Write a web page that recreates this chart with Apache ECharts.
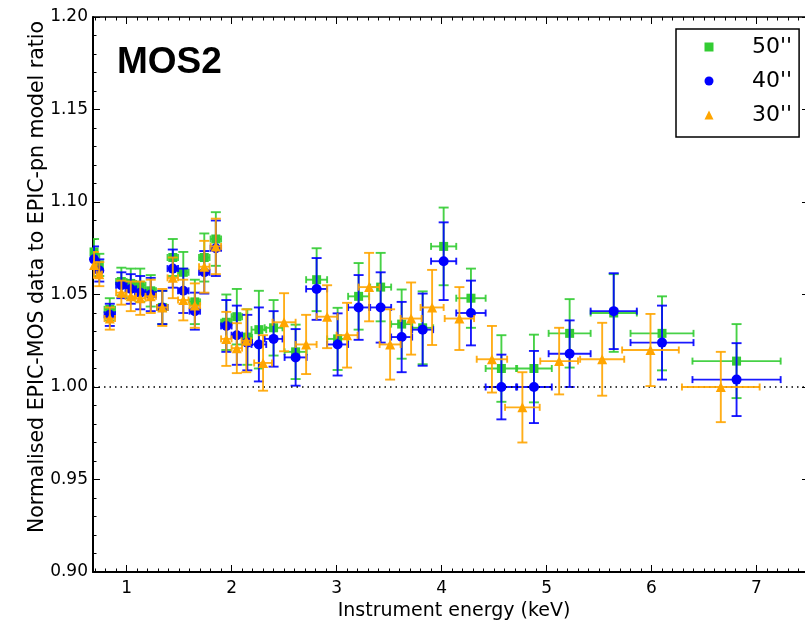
<!DOCTYPE html>
<html><head><meta charset="utf-8">
<script src="https://cdn.jsdelivr.net/npm/echarts@6/dist/echarts.min.js"></script>
<style>html,body{margin:0;padding:0;background:#fff}#c{width:805px;height:624px}</style>
</head><body><div id="c"></div>
<script>
// ---- data ----
const seriesNames = ["50''", "40''", "30''"];

const energyGB = [0.69, 0.74, 0.84, 0.95, 1.04, 1.13, 1.23, 1.34, 1.44, 1.54, 1.65, 1.74, 1.85, 1.95, 2.05, 2.15, 2.26, 2.40, 2.61, 2.81, 3.01, 3.21, 3.42, 3.62, 3.82, 4.02, 4.28, 4.57, 4.88, 5.22, 5.64, 6.10, 6.81];
const energyErrGB = [0.025, 0.025, 0.05, 0.05, 0.05, 0.05, 0.05, 0.05, 0.05, 0.05, 0.05, 0.05, 0.05, 0.05, 0.05, 0.045, 0.07, 0.085, 0.105, 0.1, 0.1, 0.1, 0.1, 0.1, 0.1, 0.12, 0.14, 0.15, 0.17, 0.2, 0.22, 0.3, 0.42];

const ratio50 = [1.073, 1.066, 1.042, 1.057, 1.056, 1.055, 1.052, 1.043, 1.070, 1.062, 1.046, 1.070, 1.080, 1.035, 1.038, 1.027, 1.031, 1.032, 1.019, 1.058, 1.026, 1.049, 1.054, 1.034, 1.032, 1.076, 1.048, 1.010, 1.010, 1.029, 1.040, 1.029, 1.014];
const ratioErr50 = [0.007, 0.006, 0.006, 0.0075, 0.008, 0.009, 0.0085, 0.009, 0.010, 0.011, 0.012, 0.013, 0.0145, 0.015, 0.015, 0.015, 0.021, 0.015, 0.0147, 0.017, 0.0168, 0.018, 0.0185, 0.0187, 0.0197, 0.021, 0.016, 0.018, 0.0183, 0.0185, 0.021, 0.020, 0.020];

const ratio40 = [1.069, 1.063, 1.039, 1.055, 1.053, 1.051, 1.050, 1.043, 1.064, 1.052, 1.041, 1.062, 1.075, 1.033, 1.028, 1.024, 1.023, 1.026, 1.016, 1.053, 1.023, 1.043, 1.043, 1.027, 1.031, 1.068, 1.040, 1.000, 1.000, 1.018, 1.041, 1.024, 1.004];
const ratioErr40 = [0.007, 0.006, 0.006, 0.007, 0.008, 0.009, 0.009, 0.009, 0.0103, 0.012, 0.010, 0.0115, 0.015, 0.014, 0.016, 0.015, 0.020, 0.015, 0.0153, 0.0167, 0.0168, 0.0175, 0.019, 0.019, 0.0195, 0.021, 0.0175, 0.0175, 0.0195, 0.018, 0.0205, 0.020, 0.0197];

const energy30 = [0.69, 0.74, 0.84, 0.95, 1.04, 1.13, 1.23, 1.34, 1.44, 1.54, 1.65, 1.74, 1.85, 1.95, 2.05, 2.14, 2.30, 2.50, 2.71, 2.91, 3.10, 3.31, 3.51, 3.71, 3.91, 4.17, 4.48, 4.77, 5.12, 5.53, 5.99, 6.66];
const energyErr30 = [0.025, 0.025, 0.05, 0.05, 0.05, 0.05, 0.05, 0.05, 0.05, 0.05, 0.05, 0.05, 0.05, 0.05, 0.05, 0.045, 0.085, 0.11, 0.1, 0.1, 0.1, 0.1, 0.1, 0.1, 0.11, 0.14, 0.145, 0.165, 0.18, 0.21, 0.27, 0.37];
const ratio30 = [1.066, 1.061, 1.037, 1.051, 1.049, 1.048, 1.049, 1.043, 1.059, 1.047, 1.044, 1.065, 1.076, 1.026, 1.021, 1.025, 1.013, 1.035, 1.023, 1.038, 1.028, 1.054, 1.023, 1.037, 1.043, 1.037, 1.015, 0.989, 1.014, 1.015, 1.020, 1.000];
const ratioErr30 = [0.007, 0.0065, 0.006, 0.0065, 0.008, 0.009, 0.009, 0.010, 0.011, 0.011, 0.012, 0.014, 0.015, 0.0146, 0.0135, 0.017, 0.015, 0.0157, 0.016, 0.017, 0.0175, 0.0185, 0.019, 0.0195, 0.0203, 0.017, 0.018, 0.019, 0.018, 0.0197, 0.0195, 0.019];

const xTickValues = [1, 2, 3, 4, 5, 6, 7];
const xTickLabels = ['1', '2', '3', '4', '5', '6', '7'];
const yTickLabels = ['0.90', '0.95', '1.00', '1.05', '1.10', '1.15', '1.20'];

// ---- chart ----
const XMIN = 0.68, XMAX = 7.5, YMIN = 0.9, YMAX = 1.2;
const xMinorValues = [];
for (let k = 7; k <= 74; k++) { if (k % 10 !== 0) xMinorValues.push(k / 10); }

const colors = ['#33cc33', '#0000ff', '#ffa500'];
const FONT = 'DejaVu Sans';

function errSeries(name, xs, ys, xe, ye, color, z) {
  const data = xs.map((x, i) => [x, ys[i], xe[i], ye[i]]);
  return {
    type: 'custom', name: name + ' err', xAxisIndex: 0, yAxisIndex: 0, z: z,
    clip: true, silent: true,
    encode: { x: 0, y: 1 },
    data: data,
    renderItem: function (params, api) {
      const x = api.value(0), y = api.value(1), dx = api.value(2), dy = api.value(3);
      const c = api.coord([x, y]);
      const l = api.coord([x - dx, y]), r = api.coord([x + dx, y]);
      const t = api.coord([x, y + dy]), b = api.coord([x, y - dy]);
      const cw = 5, ch = 3.5;
      const st = { stroke: color, lineWidth: 1.9, opacity: 0.9 };
      const ln = (x1, y1, x2, y2) => ({ type: 'line', shape: { x1, y1, x2, y2 }, style: st });
      return {
        type: 'group', children: [
          ln(l[0], c[1], r[0], c[1]),
          ln(c[0], t[1], c[0], b[1]),
          ln(c[0] - cw, t[1], c[0] + cw, t[1]),
          ln(c[0] - cw, b[1], c[0] + cw, b[1]),
          ln(l[0], c[1] - ch, l[0], c[1] + ch),
          ln(r[0], c[1] - ch, r[0], c[1] + ch)
        ]
      };
    }
  };
}

function markSeries(name, xs, ys, symbol, size, color, z) {
  return {
    type: 'scatter', name: name, xAxisIndex: 0, yAxisIndex: 0, z: z,
    symbol: symbol, symbolSize: size, clip: true,
    itemStyle: { color: color, opacity: 1 },
    data: xs.map((x, i) => [x, ys[i]])
  };
}

const baseX = {
  type: 'value', min: XMIN, max: XMAX, splitLine: { show: false }, gridIndex: 0
};
const baseY = {
  type: 'value', min: YMIN, max: YMAX, interval: 0.05, splitLine: { show: false }, gridIndex: 0
};

const chart = echarts.init(document.getElementById('c'), null, { renderer: 'canvas' });
chart.setOption({
  backgroundColor: '#fff',
  animation: false,
  grid: { left: 93, top: 17, width: 716, height: 555, containLabel: false, outerBoundsMode: 'none' },
  xAxis: [
    Object.assign({}, baseX, {
      position: 'bottom',
      axisLine: { show: true, onZero: false, lineStyle: { color: '#000', width: 2 } },
      axisTick: { show: true, inside: true, length: 7, customValues: xTickValues, lineStyle: { color: '#000', width: 1 } },
      axisLabel: { show: true, customValues: xTickValues, margin: 8, color: '#000', fontFamily: FONT, fontSize: 17,
        formatter: v => xTickLabels[xTickValues.indexOf(Math.round(v))] }
    }),
    Object.assign({}, baseX, {
      position: 'bottom',
      axisLine: { show: false, onZero: false },
      axisTick: { show: true, inside: true, length: 3.5, customValues: xMinorValues, lineStyle: { color: '#000', width: 1 } },
      axisLabel: { show: false }
    }),
    Object.assign({}, baseX, {
      position: 'top',
      axisLine: { show: true, onZero: false, lineStyle: { color: '#000', width: 1.5 } },
      axisTick: { show: true, inside: true, length: 7, customValues: xTickValues, lineStyle: { color: '#000', width: 1 } },
      axisLabel: { show: false }
    }),
    Object.assign({}, baseX, {
      position: 'top',
      axisLine: { show: false, onZero: false },
      axisTick: { show: true, inside: true, length: 3.5, customValues: xMinorValues, lineStyle: { color: '#000', width: 1 } },
      axisLabel: { show: false }
    })
  ],
  yAxis: [
    Object.assign({}, baseY, {
      position: 'left',
      axisLine: { show: true, onZero: false, lineStyle: { color: '#000', width: 2 } },
      axisTick: { show: true, inside: true, length: 7, lineStyle: { color: '#000', width: 1 } },
      minorTick: { show: true, splitNumber: 5, length: 3.5, lineStyle: { color: '#000', width: 1 } },
      axisLabel: { show: true, margin: 5, color: '#000', fontFamily: FONT, fontSize: 17,
        formatter: v => yTickLabels[Math.round((v - YMIN) / 0.05)] }
    }),
    Object.assign({}, baseY, {
      position: 'right',
      axisLine: { show: true, onZero: false, lineStyle: { color: '#000', width: 1.5 } },
      axisTick: { show: true, inside: true, length: 7, lineStyle: { color: '#000', width: 1 } },
      minorTick: { show: true, splitNumber: 5, length: 3.5, lineStyle: { color: '#000', width: 1 } },
      axisLabel: { show: false }
    })
  ],
  legend: {
    data: seriesNames,
    orient: 'vertical', left: 676, top: 29,
    padding: [6, 7, 10, 28.5],
    itemWidth: 9, itemHeight: 9, itemGap: 10,
    borderColor: '#000', borderWidth: 1.5, backgroundColor: '#fff',
    textStyle: { fontFamily: FONT, fontSize: 22, color: '#000', lineHeight: 24, padding: [0, 0, 0, 33.5] },
    selectedMode: false
  },
  graphic: [
    { type: 'text', left: 117, top: 44, z: 100,
      style: { text: 'MOS2', fontFamily: 'Liberation Sans', fontWeight: 'bold', fontSize: 37, fill: '#000' } },
    { type: 'text', x: 38, y: 277, rotation: Math.PI / 2, z: 100,
      style: { text: 'Normalised EPIC-MOS data to EPIC-pn model ratio', fontFamily: FONT, fontSize: 20.5, fill: '#000',
        align: 'center', verticalAlign: 'middle' } },
    { type: 'text', x: 454, y: 611, z: 100,
      style: { text: 'Instrument energy (keV)', fontFamily: FONT, fontSize: 19, fill: '#000',
        align: 'center', verticalAlign: 'middle' } }
  ],
  series: [
    {
      type: 'line', name: 'unity', xAxisIndex: 0, yAxisIndex: 0, data: [], z: 1, silent: true,
      markLine: { silent: true, symbol: 'none', animation: false, label: { show: false },
        lineStyle: { color: '#000', width: 1.5, type: [1.5, 4] }, data: [{ yAxis: 1.0 }] }
    },
    errSeries(seriesNames[0], energyGB, ratio50, energyErrGB, ratioErr50, colors[0], 2),
    markSeries(seriesNames[0], energyGB, ratio50, 'rect', 9, colors[0], 3),
    errSeries(seriesNames[1], energyGB, ratio40, energyErrGB, ratioErr40, colors[1], 4),
    markSeries(seriesNames[1], energyGB, ratio40, 'circle', 10, colors[1], 5),
    errSeries(seriesNames[2], energy30, ratio30, energyErr30, ratioErr30, colors[2], 6),
    markSeries(seriesNames[2], energy30, ratio30, 'triangle', 10, colors[2], 7)
  ]
});
</script>
</body></html>
